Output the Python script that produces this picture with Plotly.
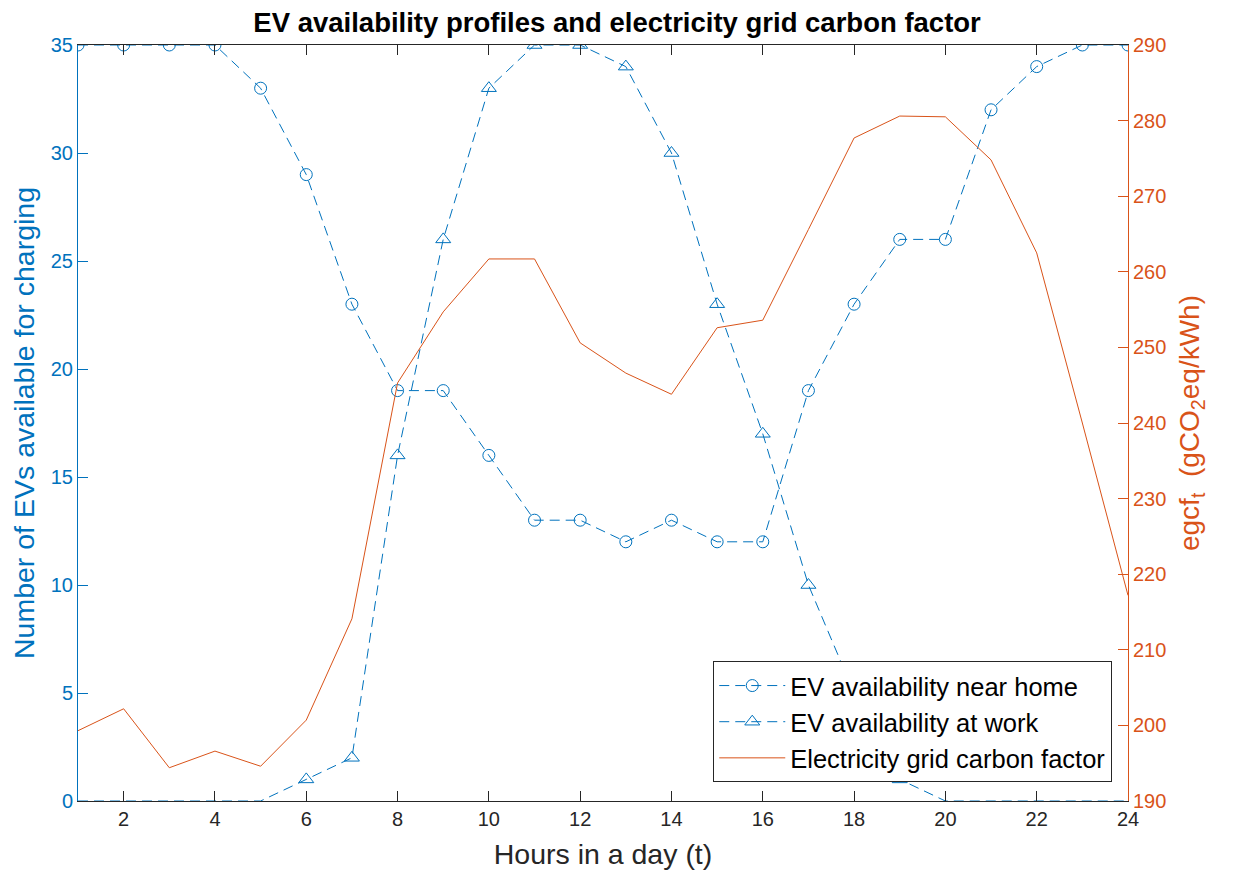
import plotly.graph_objects as go

hours = list(range(1, 25))

ev_home = [35, 35, 35, 35, 33, 29, 23, 19, 19, 16, 13, 13,
           12, 13, 12, 12, 19, 23, 26, 26, 32, 34, 35, 35]
ev_work = [0, 0, 0, 0, 0, 1, 2, 16, 26, 33, 35, 35,
           34, 30, 23, 17, 10, 5, 1, 0, 0, 0, 0, 0]
carbon = [199.3, 202.2, 194.4, 196.6, 194.6, 200.7, 214.1, 245.3, 254.7, 261.7, 261.7, 250.6,
          246.6, 243.8, 252.6, 253.6, 265.6, 277.7, 280.6, 280.5, 274.8, 262.5, 240.0, 217.2]

BLUE = "#0072BD"
ORANGE = "#D95319"
FONT = "Liberation Sans, Arial, sans-serif"

fig = go.Figure()

fig.add_trace(go.Scatter(
    x=hours, y=ev_home, name="EV availability near home",
    mode="lines+markers",
    line=dict(color=BLUE, width=1, dash="10px,6px"),
    marker=dict(symbol="circle-open", size=12, color=BLUE, line=dict(width=1)),
))
fig.add_trace(go.Scatter(
    x=hours, y=ev_work, name="EV availability at work",
    mode="lines+markers",
    line=dict(color=BLUE, width=1, dash="10px,6px"),
    marker=dict(symbol="triangle-up-open", size=13, color=BLUE, line=dict(width=1)),
    # no markers drawn where nobody is at work (as in the original figure)
    selectedpoints=[i for i, v in enumerate(ev_work) if v != 0],
    unselected=dict(marker=dict(opacity=0)),
))
fig.add_trace(go.Scatter(
    x=hours, y=carbon, name="Electricity grid carbon factor",
    mode="lines", yaxis="y2",
    line=dict(color=ORANGE, width=1),
))

# the page body adds an 8px offset, margins are shifted to compensate
fig.update_layout(
    width=1238, height=877,
    margin=dict(l=70, r=118, t=37, b=84),
    paper_bgcolor="white", plot_bgcolor="white",
    font=dict(family=FONT, size=20, color="#262626"),
    title=dict(text="<b>EV availability profiles and electricity grid carbon factor</b>",
               x=0.492, xref="container", y=0.984, yanchor="middle",
               font=dict(size=27.5, color="black")),
    xaxis=dict(
        range=[1, 24], tickvals=list(range(2, 25, 2)),
        title=dict(text="Hours in a day (t)", font=dict(size=28.5), standoff=15),
        showgrid=False, zeroline=False,
        showline=True, linecolor="#262626", linewidth=1, mirror="ticks",
        ticks="inside", ticklen=10, tickcolor="#262626",
    ),
    yaxis=dict(
        range=[0, 35], tickvals=list(range(0, 36, 5)),
        title=dict(text="Number of EVs available for charging",
                   font=dict(size=28.5, color=BLUE), standoff=12),
        tickfont=dict(color=BLUE),
        showgrid=False, zeroline=False,
        showline=True, linecolor=BLUE, linewidth=1,
        ticks="inside", ticklen=10, tickcolor=BLUE,
    ),
    yaxis2=dict(
        range=[190, 290], tickvals=list(range(190, 291, 10)),
        overlaying="y", side="right",
        title=dict(text="egcf<sub>t</sub>  (gCO<sub>2</sub>eq/kWh)",
                   font=dict(size=28, color=ORANGE), standoff=14),
        tickfont=dict(color=ORANGE),
        showgrid=False, zeroline=False,
        showline=True, linecolor=ORANGE, linewidth=1,
        ticks="inside", ticklen=10, tickcolor=ORANGE,
    ),
    legend=dict(
        x=0.985, y=0.0245, xanchor="right", yanchor="bottom",
        bgcolor="white", bordercolor="#262626", borderwidth=1,
        font=dict(size=25.5, color="black"),
        itemwidth=66,
    ),
    showlegend=True,
)

fig.write_html("out.html")
